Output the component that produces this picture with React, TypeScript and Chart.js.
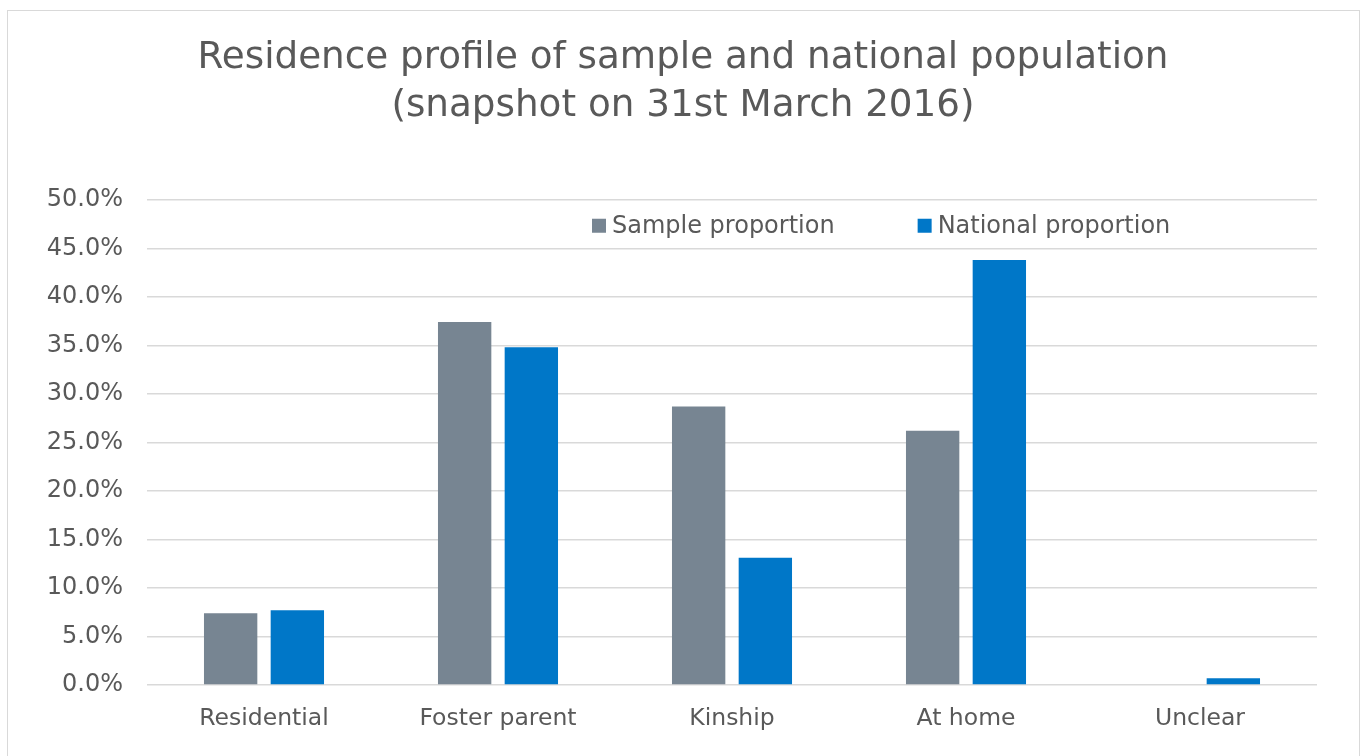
import React, { useEffect, useRef } from "react";
import { Chart, registerables } from "chart.js";

Chart.register(...registerables);

const titleLines = ["Residence profile of sample and national population", "(snapshot on 31st March 2016)"];
const categories = ["Residential", "Foster parent", "Kinship", "At home", "Unclear"];
const sampleValues = [7.4, 37.4, 28.7, 26.2, 0];
const nationalValues = [7.7, 34.8, 13.1, 43.8, 0.7];
const seriesNames = ["Sample proportion", "National proportion"];
const seriesColors = ["#778592", "#0077C8"];

const FONT = "Verdana, 'DejaVu Sans', sans-serif";
const TEXT = "#595959";

const legendPlugin = {
  id: "insideLegend",
  afterDraw(chart: any) {
    const ctx = chart.ctx;
    const area = chart.chartArea;
    ctx.save();
    ctx.font = `24px ${FONT}`;
    ctx.textBaseline = "middle";
    ctx.textAlign = "left";
    let x = area.left + 445;
    const y = area.top + 26;
    chart.data.datasets.forEach((ds: any, i: number) => {
      ctx.fillStyle = ds.backgroundColor;
      ctx.fillRect(x, y - 7, 14, 14);
      x += 20;
      ctx.fillStyle = TEXT;
      ctx.fillText(ds.label, x, y + 1);
      x += ctx.measureText(ds.label).width + 83;
    });
    ctx.restore();
  },
};

export default function App() {
  const ref = useRef<HTMLCanvasElement | null>(null);
  useEffect(() => {
    if (!ref.current) return;
    const chart = new Chart(ref.current, {
      type: "bar",
      data: {
        labels: categories,
        datasets: [
          { label: seriesNames[0], data: sampleValues, backgroundColor: seriesColors[0] },
          { label: seriesNames[1], data: nationalValues, backgroundColor: seriesColors[1] },
        ],
      },
      options: {
        animation: false,
        responsive: false,
        devicePixelRatio: 1,
        categoryPercentage: 0.57,
        barPercentage: 0.8,
        layout: { padding: { left: 0, right: 0, top: 0, bottom: 0 } },
        plugins: {
          legend: { display: false },
          tooltip: { enabled: false },
          title: {
            display: true,
            text: titleLines,
            color: TEXT,
            font: { family: FONT, size: 37.3, weight: "normal", lineHeight: 1.27 },
            padding: { top: 24, bottom: 70 },
          },
        },
        scales: {
          x: {
            grid: { display: false },
            border: { display: false },
            ticks: { color: TEXT, font: { family: FONT, size: 23.5 }, padding: 12, maxRotation: 0 },
            afterFit(scale: any) {
              scale.height = 70;
            },
          },
          y: {
            min: 0,
            max: 50,
            border: { display: false },
            grid: { color: "#d9d9d9", lineWidth: 1.5, drawTicks: false },
            ticks: {
              stepSize: 5,
              color: TEXT,
              font: { family: FONT, size: 24 },
              padding: 24,
              callback: (v: any) => Number(v).toFixed(1) + "%",
            },
            afterFit(scale: any) {
              scale.width = 139;
            },
          },
          yRight: {
            position: "right",
            min: 0,
            max: 50,
            grid: { display: false, drawTicks: false },
            border: { display: false },
            ticks: { display: false },
            afterFit(scale: any) {
              scale.width = 41;
            },
          },
        },
      },
      plugins: [legendPlugin],
    });
    return () => chart.destroy();
  }, []);

  return (
    <div
      style={{
        position: "absolute",
        left: 7,
        top: 10,
        width: 1353,
        height: 746,
        boxSizing: "border-box",
        borderTop: "1px solid #d9d9d9",
        borderLeft: "1px solid #d9d9d9",
        borderRight: "1px solid #d9d9d9",
        background: "#fff",
      }}
    >
      <canvas ref={ref} width={1350} height={744} style={{ display: "block", width: 1350, height: 744 }} />
    </div>
  );
}
